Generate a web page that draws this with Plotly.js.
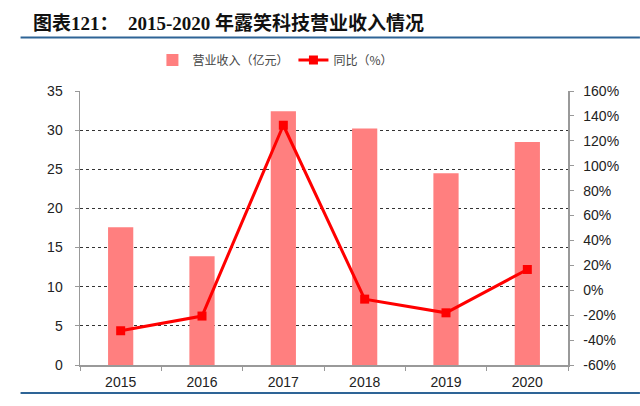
<!DOCTYPE html>
<html>
<head>
<meta charset="utf-8">
<script src="https://cdn.plot.ly/plotly-3.0.1.min.js"></script>
<style>
  body { margin: 0; background: #fff; }
  #chart { width: 640px; height: 406px; }
</style>
</head>
<body>
<div id="chart"></div>
<script>
const years = ["2015", "2016", "2017", "2018", "2019", "2020"];
const revenue = [17.6, 13.9, 32.4, 30.2, 24.5, 28.5];
const yoy = [-32.5, -20.7, 132.5, -7.1, -18.1, 16.7];
const leftTicks = [0, 5, 10, 15, 20, 25, 30, 35];
const rightTicks = [-60, -40, -20, 0, 20, 40, 60, 80, 100, 120, 140, 160];

const L = 79.5, R = 568, T = 91, B = 365;
const PW = R - L;
function px(x) { return (x - L) / PW; }

const tickFont = { family: "Liberation Sans, Arial, sans-serif", size: 14, color: "#222" };

const barTrace = {
    x: years,
    y: revenue,
    type: "bar",
    name: "营业收入（亿元）",
    marker: { color: "#FF7F7F" },
    width: 0.31
};

const lineTrace = {
    x: years,
    y: yoy,
    type: "scatter",
    mode: "lines+markers",
    name: "同比（%）",
    yaxis: "y2",
    line: { color: "#FF0000", width: 3 },
    marker: { color: "#FF0000", symbol: "square", size: 9 }
};

const layout = {
    width: 640,
    height: 406,
    margin: { l: L, r: 640 - R, t: T, b: 406 - B, pad: 0 },
    paper_bgcolor: "#fff",
    plot_bgcolor: "#fff",
    showlegend: true,
    title: {
        text: "<b>图表121：  2015-2020 年露笑科技营业收入情况</b>",
        font: { family: "Liberation Serif, Noto Sans CJK SC, serif", size: 19, color: "#111" },
        x: 33 / 640, xanchor: "left",
        y: 1 - 23 / 406, yanchor: "middle"
    },
    legend: {
        orientation: "h",
        x: px(152), xanchor: "left",
        y: (B - 60) / (B - T), yanchor: "middle",
        font: { family: "Noto Sans CJK SC, sans-serif", size: 12, color: "#444" },
        bgcolor: "rgba(0,0,0,0)",
        itemwidth: 30,
        tracegroupgap: 0
    },
    xaxis: {
        type: "category",
        showline: true, linecolor: "#999", linewidth: 1.5,
        ticks: "outside", ticklen: 4, tickcolor: "#999",
        tickson: "boundaries",
        tickfont: tickFont,
        ticklabelstandoff: 4,
        showgrid: false,
        zeroline: false
    },
    yaxis: {
        range: [0, 35],
        tickvals: leftTicks,
        showline: true, linecolor: "#999", linewidth: 1.5,
        ticks: "outside", ticklen: 4, tickcolor: "#999",
        tickfont: tickFont,
        ticklabelstandoff: 9,
        showgrid: true, gridcolor: "#333", griddash: "dot", gridwidth: 1,
        zeroline: false
    },
    yaxis2: {
        overlaying: "y",
        side: "right",
        range: [-60, 160],
        tickvals: rightTicks,
        ticktext: rightTicks.map(v => v + "%"),
        showline: true, linecolor: "#999", linewidth: 1.5,
        ticks: "outside", ticklen: 4, tickcolor: "#999",
        tickfont: tickFont,
        ticklabelstandoff: 7,
        showgrid: false,
        zeroline: false
    },
    shapes: [
        {
            type: "line", xref: "paper", yref: "paper",
            x0: px(20), x1: px(640),
            y0: (B - 37.5) / (B - T), y1: (B - 37.5) / (B - T),
            line: { color: "#2E6496", width: 2 }
        },
        {
            type: "line", xref: "paper", yref: "paper",
            x0: px(20), x1: px(640),
            y0: (B - 393) / (B - T), y1: (B - 393) / (B - T),
            line: { color: "#2E6496", width: 2 }
        }
    ]
};

Plotly.newPlot("chart", [barTrace, lineTrace], layout, { displayModeBar: false, staticPlot: true });
</script>
</body>
</html>
